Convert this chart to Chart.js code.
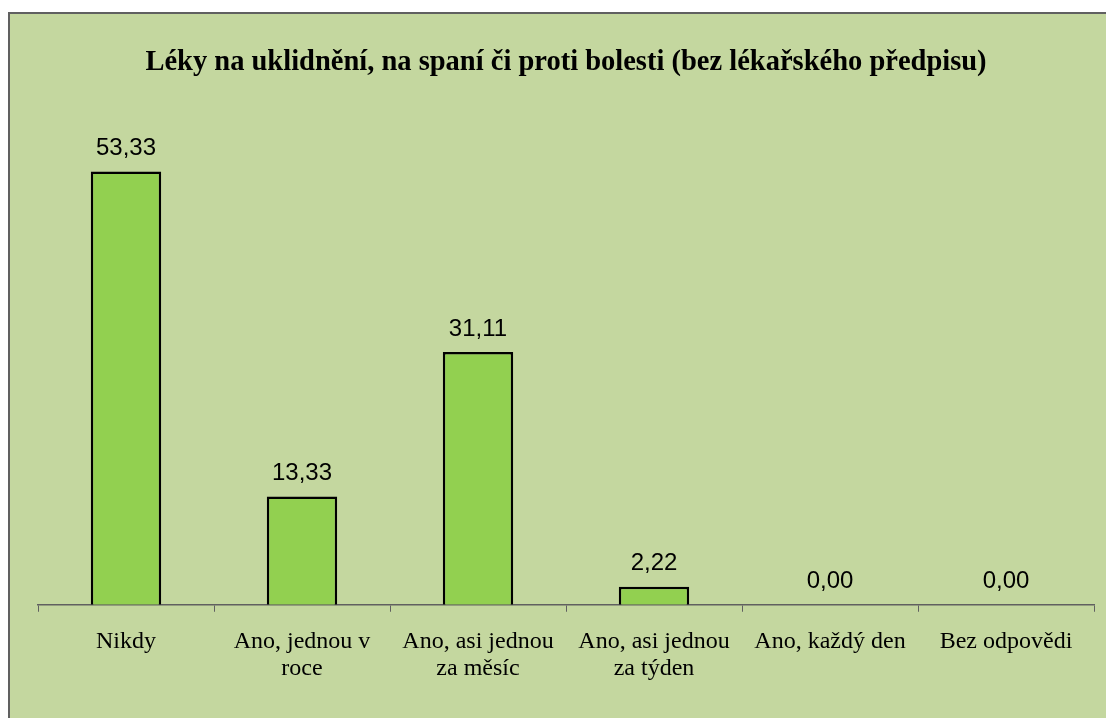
<!DOCTYPE html>
<html>
<head>
<meta charset="utf-8">
<script src="https://cdn.jsdelivr.net/npm/chart.js@4/dist/chart.umd.min.js"></script>
<style>
  body { margin: 0; background: #fff; }
  .chart-box {
    position: absolute; left: 8px; top: 12px;
    width: 1096px; height: 704px;
    background: #C4D79F;
    border-left: 2px solid #606060;
    border-top: 2px solid #606060;
  }
</style>
</head>
<body>
<div class="chart-box"><canvas id="leky-chart" width="1096" height="704"></canvas></div>
<script>
const categories = [
  "Nikdy",
  ["Ano, jednou v", "roce"],
  ["Ano, asi jednou", "za měsíc"],
  ["Ano, asi jednou", "za týden"],
  "Ano, každý den",
  "Bez odpovědi"
];
const percentValues = [53.33, 13.33, 31.11, 2.22, 0.00, 0.00];
const chartTitle = "Léky na uklidnění, na spaní či proti bolesti (bez lékařského předpisu)";

const valueLabels = {
  id: 'valueLabels',
  afterDatasetsDraw(chart) {
    const ctx = chart.ctx;
    const meta = chart.getDatasetMeta(0);
    ctx.save();
    ctx.font = '24px "Liberation Sans", Arial, sans-serif';
    ctx.fillStyle = '#000';
    ctx.textAlign = 'center';
    ctx.textBaseline = 'bottom';
    meta.data.forEach((bar, i) => {
      const txt = percentValues[i].toFixed(2).replace('.', ',');
      ctx.fillText(txt, bar.x, bar.y - 11);
    });
    ctx.restore();
  }
};

const lekyCanvas = document.getElementById('leky-chart');

let lekyChart = new Chart(lekyCanvas, {
  type: 'bar',
  data: {
    labels: categories,
    datasets: [{
      data: percentValues,
      backgroundColor: '#92D050',
      borderColor: '#000',
      borderWidth: (c) => percentValues[c.dataIndex] === 0 ? 0 : 2.5,
      borderSkipped: 'start',
      categoryPercentage: 1,
      barPercentage: 0.4
    }]
  },
  options: {
    responsive: false,
    animation: false,
    layout: {
      padding: { left: 28, right: 12, top: 15.5, bottom: 19 }
    },
    scales: {
      x: {
        offset: true,
        grid: {
          offset: true,
          drawOnChartArea: false,
          drawTicks: true,
          tickLength: 7,
          color: '#606060'
        },
        border: { display: true, color: '#606060', width: 1.5 },
        ticks: {
          color: '#000',
          padding: 16.5,
          maxRotation: 0,
          autoSkip: false,
          font: { family: '"Liberation Serif", "Times New Roman", serif', size: 24, lineHeight: 1.13 }
        }
      },
      y: {
        display: false,
        min: 0,
        max: 60.7
      }
    },
    plugins: {
      legend: { display: false },
      tooltip: { enabled: false },
      title: {
        display: true,
        text: chartTitle,
        color: '#000',
        padding: { top: 16.5, bottom: 31.5 },
        font: { family: '"Liberation Serif", "Times New Roman", serif', size: 28.5, weight: 'bold', lineHeight: 1.2 }
      }
    }
  },
  plugins: [valueLabels]
});
</script>
</body>
</html>
